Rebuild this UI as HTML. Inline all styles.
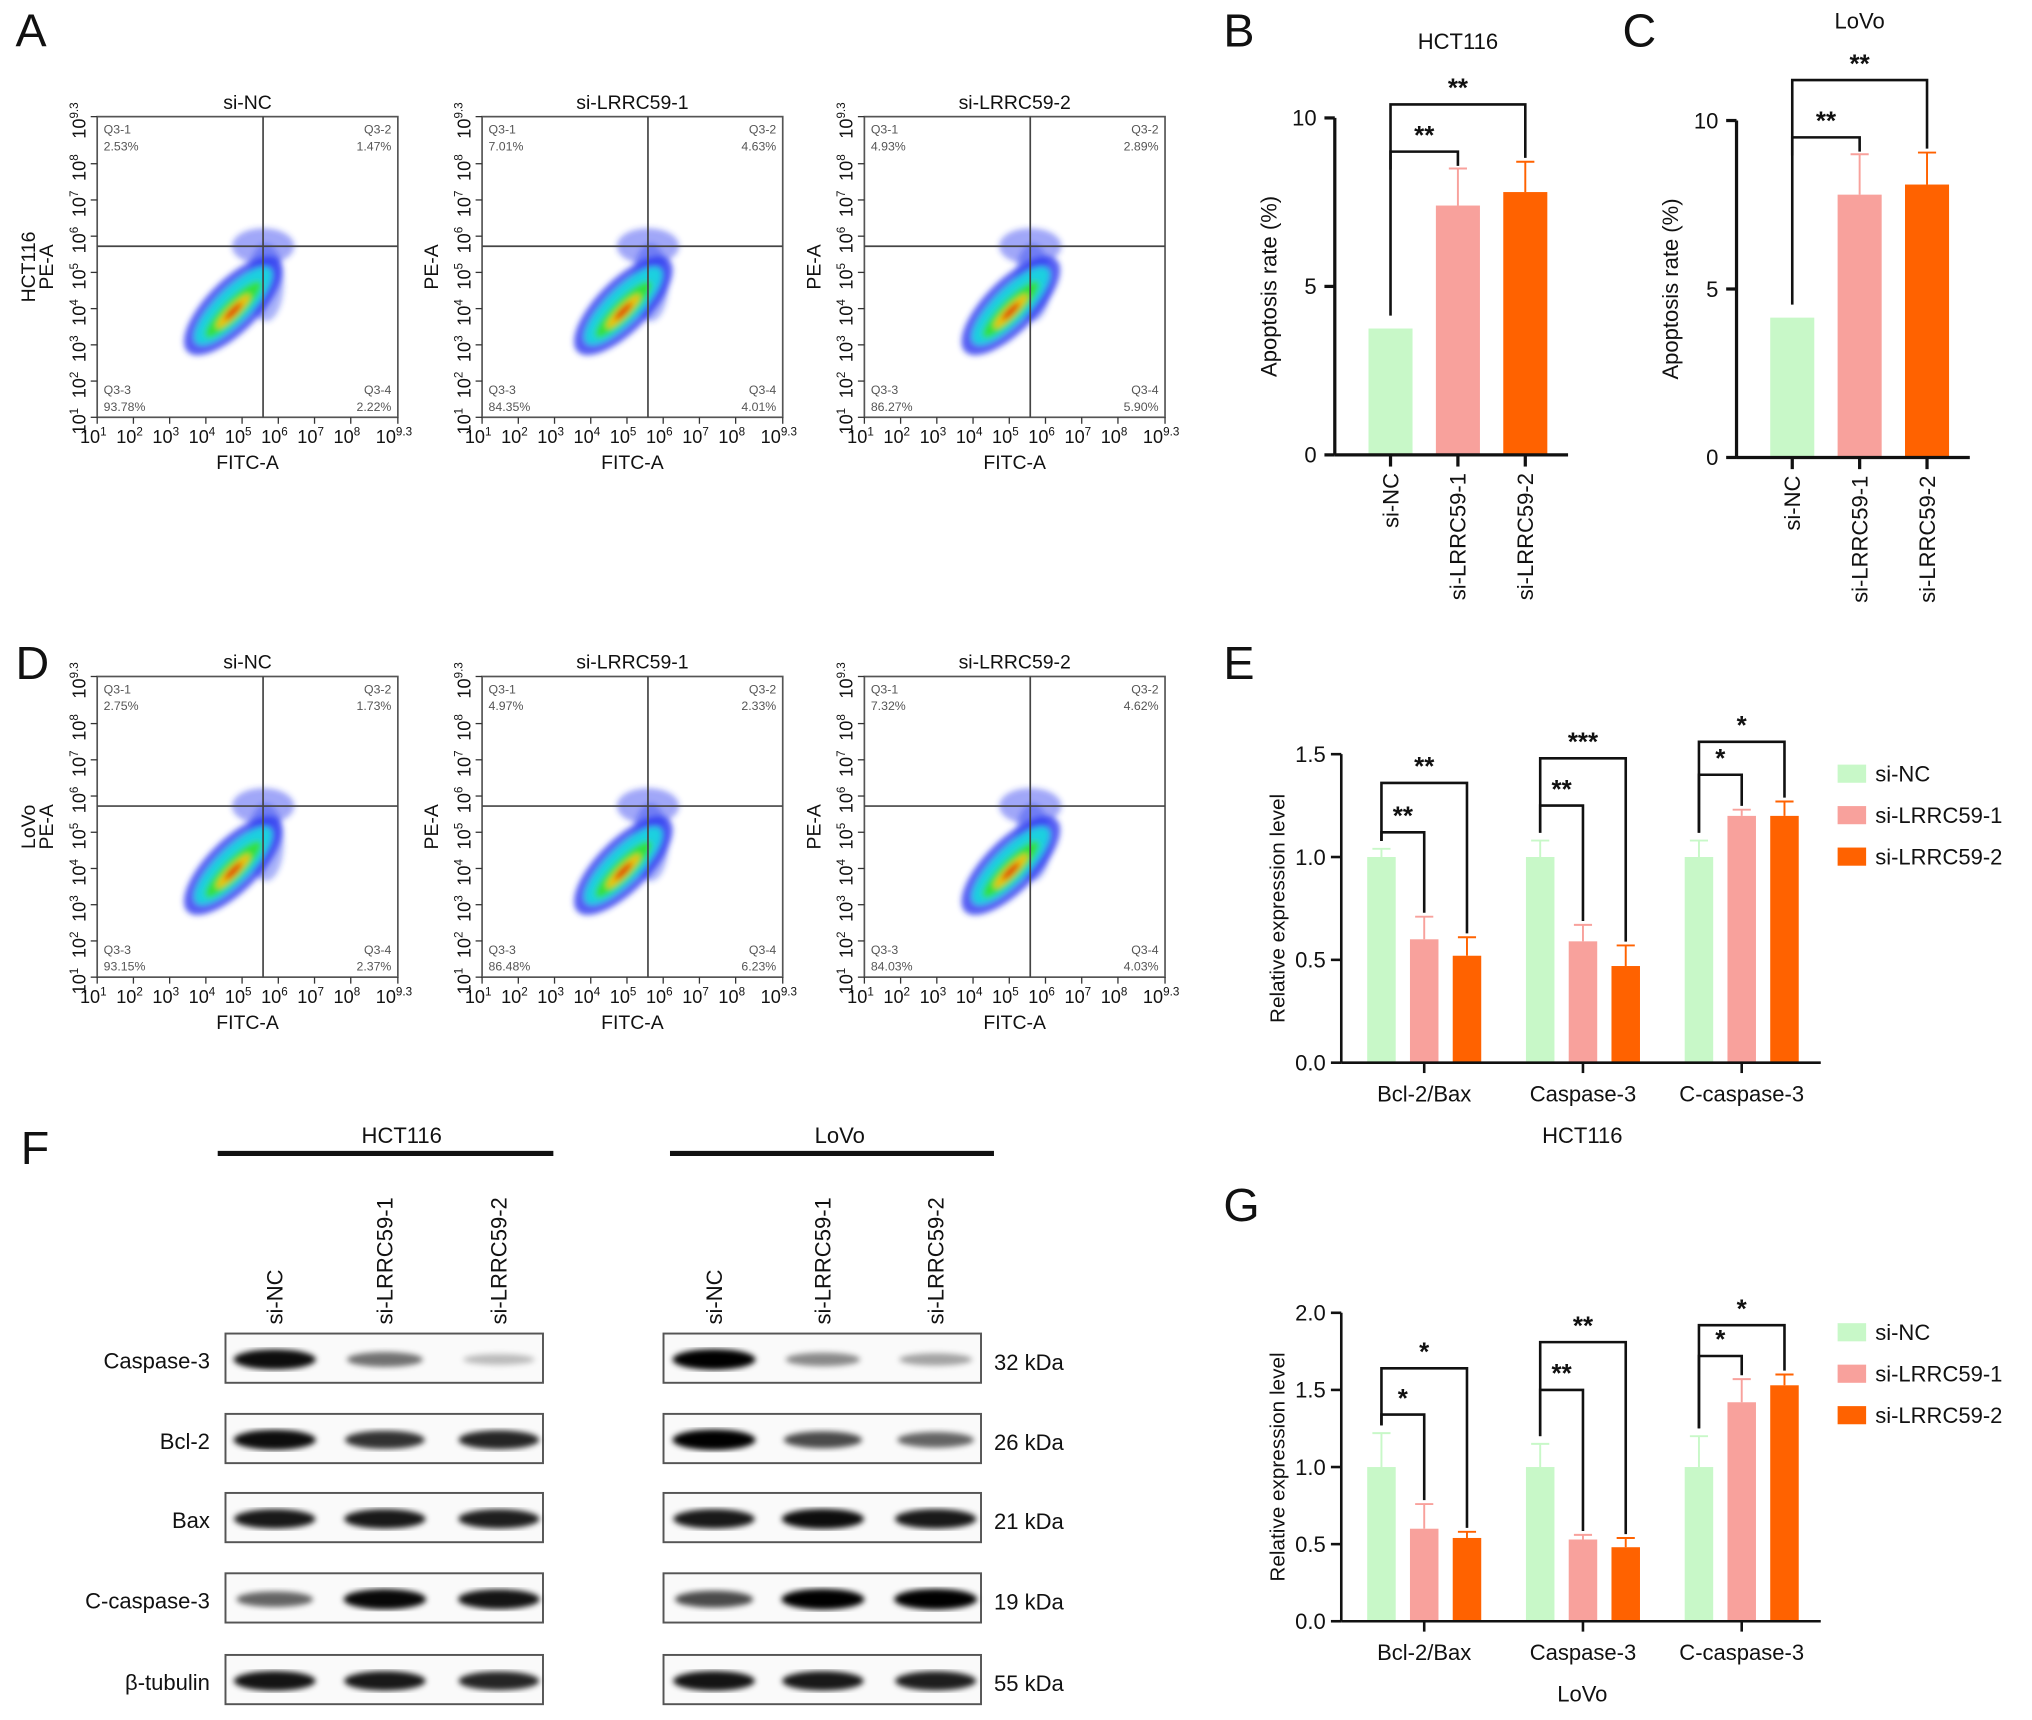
<!DOCTYPE html>
<html><head><meta charset="utf-8"><style>
html,body{margin:0;padding:0;background:#fff;}
svg{display:block;font-family:"Liberation Sans",Arial,sans-serif;}
</style></head><body>
<svg id="fig" width="2032" height="1720" viewBox="0 0 1568 1327.2" preserveAspectRatio="none" xmlns="http://www.w3.org/2000/svg">
<defs>
<filter id="blur2"><feGaussianBlur stdDeviation="2.2"/></filter>
<filter id="blur4"><feGaussianBlur stdDeviation="4"/></filter>
</defs>
<g id="root"></g>
</svg>
<script>
// ---------- data ----------
const barCats = ['si-NC','si-LRRC59-1','si-LRRC59-2'];
const barColors = ['#c8f8c8','#f8a19c','#ff6200'];
const hctApop = [3.75, 7.4, 7.8];
const hctApopErr = [3.8, 8.5, 8.7];
const lovoApop = [4.15, 7.8, 8.1];
const lovoApopErr = [4.2, 9.0, 9.05];
const apopTicks = [0, 5, 10];

const groups = ['Bcl-2/Bax','Caspase-3','C-caspase-3'];
const hctNC = [1.0, 1.0, 1.0];
const hctNCErr = [1.04, 1.08, 1.08];
const hctS1 = [0.6, 0.59, 1.2];
const hctS1Err = [0.71, 0.67, 1.23];
const hctS2 = [0.52, 0.47, 1.2];
const hctS2Err = [0.61, 0.57, 1.27];
const hctTicks = [0, 0.5, 1.0, 1.5];
const hctSigLow = ['**','**','*'];
const hctSigHigh = ['**','***','*'];
const hctBrLow = [1.12, 1.25, 1.40];
const hctBrHigh = [1.36, 1.48, 1.56];

const lovoNC = [1.0, 1.0, 1.0];
const lovoNCErr = [1.22, 1.15, 1.2];
const lovoS1 = [0.6, 0.53, 1.42];
const lovoS1Err = [0.76, 0.56, 1.57];
const lovoS2 = [0.54, 0.48, 1.53];
const lovoS2Err = [0.58, 0.54, 1.6];
const lovoTicks = [0, 0.5, 1.0, 1.5, 2.0];
const lovoSigLow = ['*','**','*'];
const lovoSigHigh = ['*','**','*'];
const lovoBrLow = [1.34, 1.50, 1.72];
const lovoBrHigh = [1.64, 1.81, 1.92];

const flowTitles = ['si-NC','si-LRRC59-1','si-LRRC59-2'];
const hctQuad = [['2.53%','1.47%','93.78%','2.22%'],['7.01%','4.63%','84.35%','4.01%'],['4.93%','2.89%','86.27%','5.90%']];
const lovoQuad = [['2.75%','1.73%','93.15%','2.37%'],['4.97%','2.33%','86.48%','6.23%'],['7.32%','4.62%','84.03%','4.03%']];

const blotRows = ['Caspase-3','Bcl-2','Bax','C-caspase-3','β-tubulin'];
const blotKda = ['32 kDa','26 kDa','21 kDa','19 kDa','55 kDa'];
const hctBands = [[0.95,0.55,0.25],[0.95,0.8,0.85],[0.9,0.9,0.88],[0.6,0.97,0.92],[0.92,0.9,0.85]];
const lovoBands = [[1.0,0.45,0.35],[1.0,0.7,0.6],[0.9,0.95,0.9],[0.7,1.0,1.0],[0.92,0.9,0.88]];

// ---------- helpers ----------
const NS='http://www.w3.org/2000/svg';
const root=document.getElementById('root');
function el(tag,attrs,parent){const e=document.createElementNS(NS,tag);for(const k in attrs)e.setAttribute(k,attrs[k]);(parent||root).appendChild(e);return e;}
function txt(x,y,s,size,parent,extra){const t=el('text',Object.assign({x:x,y:y,'font-size':size,fill:'#111'},extra||{}),parent);t.textContent=s;return t;}

[['A',12,36],['B',944,36],['C',1252,36],['D',12,524],['E',944,524],['F',16,898],['G',944,942]].forEach(p=>{
  const t=txt(p[1],p[2],p[0],36,root);
  
  
});

// ---------- flow plots ----------
function flowPlot(bx,by,title,quad,rowLabel,seed){
  const g=el('g',{});
  
  
  const w=232,h=232;
  const dec=w/8.3;
  txt(bx+w/2,by-6,title,15,g,{'text-anchor':'middle'});
  const cx=bx+105+seed*4, cy=by+146;
  const sc=el('g',{filter:'url(#blur2)'},g);
  el('ellipse',{cx:bx+128,cy:by+100,rx:24,ry:14,fill:'#2b3cf0',opacity:0.45},sc);
  el('ellipse',{cx:bx+130,cy:by+128,rx:14,ry:30,fill:'#2b3cf0',opacity:0.4},sc);
  el('ellipse',{cx:cx,cy:cy,rx:50,ry:20,fill:'#2a3af0',transform:`rotate(-45 ${cx} ${cy})`,opacity:0.8},sc);
  el('ellipse',{cx:cx,cy:cy,rx:40,ry:13,fill:'#1fd0e0',transform:`rotate(-45 ${cx} ${cy})`},sc);
  el('ellipse',{cx:cx-2,cy:cy+2,rx:30,ry:8,fill:'#30e040',transform:`rotate(-45 ${cx} ${cy})`},sc);
  el('ellipse',{cx:cx-3,cy:cy+3,rx:18,ry:4,fill:'#f0c000',transform:`rotate(-45 ${cx} ${cy})`},sc);
  el('ellipse',{cx:cx-3,cy:cy+3,rx:9,ry:2.5,fill:'#e03000',transform:`rotate(-45 ${cx} ${cy})`},sc);
  el('rect',{x:bx,y:by,width:w,height:h,fill:'none',stroke:'#555','stroke-width':1.3},g);
  const qx=bx+128, qy=by+100;
  el('line',{x1:qx,y1:by,x2:qx,y2:by+h,stroke:'#444','stroke-width':1.3},g);
  el('line',{x1:bx,y1:qy,x2:bx+w,y2:qy,stroke:'#444','stroke-width':1.3},g);
  const qa={'font-size':9.5,fill:'#555'};
  txt(bx+5,by+13,'Q3-1',9.5,g,qa);txt(bx+5,by+26,quad[0],9.5,g,qa);
  txt(bx+w-5,by+13,'Q3-2',9.5,g,Object.assign({'text-anchor':'end'},qa));txt(bx+w-5,by+26,quad[1],9.5,g,Object.assign({'text-anchor':'end'},qa));
  txt(bx+5,by+h-18,'Q3-3',9.5,g,qa);txt(bx+5,by+h-5,quad[2],9.5,g,qa);
  txt(bx+w-5,by+h-18,'Q3-4',9.5,g,Object.assign({'text-anchor':'end'},qa));txt(bx+w-5,by+h-5,quad[3],9.5,g,Object.assign({'text-anchor':'end'},qa));
  const exps=['1','2','3','4','5','6','7','8','9.3'];
  exps.forEach((e,i)=>{
    const d=(i===8)?8.3:i;
    const x=bx+d*dec, y=by+h-d*dec;
    el('line',{x1:x,y1:by+h,x2:x,y2:by+h+5,stroke:'#333'},g);
    el('line',{x1:bx-5,y1:y,x2:bx,y2:y,stroke:'#333'},g);
    const t=txt(x-3,by+h+20,'',14,g,{'text-anchor':'middle'});
    const a=el('tspan',{},t);a.textContent='10';
    const b=el('tspan',{dy:-6,'font-size':9},t);b.textContent=e;
    const ty=txt(0,0,'',14,g,{transform:`translate(${bx-9},${y+3}) rotate(-90)`,'text-anchor':'middle'});
    const a2=el('tspan',{},ty);a2.textContent='10';
    const b2=el('tspan',{dy:-6,'font-size':9},ty);b2.textContent=e;
  });
  txt(bx+w/2,by+h+40,'FITC-A',15,g,{'text-anchor':'middle'});
  if(rowLabel){
    txt(0,0,rowLabel,15,g,{transform:`translate(${bx-48},${by+h/2}) rotate(-90)`,'text-anchor':'middle'});
  }
  txt(0,0,'PE-A',15,g,{transform:`translate(${bx-34},${by+h/2}) rotate(-90)`,'text-anchor':'middle'});
}
const flowX=[75,372,667];
flowTitles.forEach((t,i)=>flowPlot(flowX[i],90,t,hctQuad[i],i===0?'HCT116':null,i));
flowTitles.forEach((t,i)=>flowPlot(flowX[i],522,t,lovoQuad[i],i===0?'LoVo':null,i));

// ---------- simple bar panels ----------
function errBar(g,x,yTop,yVal,color){
  el('line',{x1:x,y1:yVal,x2:x,y2:yTop,stroke:color,'stroke-width':1.5},g);
  el('line',{x1:x-7,y1:yTop,x2:x+7,y2:yTop,stroke:color,'stroke-width':1.5},g);
}
function bracket(g,x1,x2,yb,y1,y2,label){
  el('polyline',{points:`${x1},${y1} ${x1},${yb} ${x2},${yb} ${x2},${y2}`,fill:'none',stroke:'#111','stroke-width':2},g);
  txt((x1+x2)/2,yb-6,label,20,g,{'text-anchor':'middle','font-weight':'bold'});
}
function apopPanel(name,ax,y0,vals,errs,title,titleY,brLow,brHigh){
  const g=el('g',{});
  
  
  const ppu=26;
  const Y=v=>y0-v*ppu;
  const X=i=>ax+43+i*52;
  txt(ax+95,titleY,title,17,g,{'text-anchor':'middle'});
  vals.forEach((v,i)=>{
    const b=el('rect',{x:X(i)-17,y:Y(v),width:34,height:v*ppu,fill:barColors[i]},g);
    
    
    if(i>0)errBar(g,X(i),Y(errs[i]),Y(v),barColors[i]);
  });
  el('line',{x1:ax,y1:y0,x2:ax,y2:Y(10),stroke:'#111','stroke-width':2.5},g);
  el('line',{x1:ax,y1:y0,x2:ax+180,y2:y0,stroke:'#111','stroke-width':2.5},g);
  apopTicks.forEach(t=>{
    el('line',{x1:ax-8,y1:Y(t),x2:ax,y2:Y(t),stroke:'#111','stroke-width':2.5},g);
    txt(ax-14,Y(t)+6,String(t),17,g,{'text-anchor':'end'});
  });
  barCats.forEach((c,i)=>{
    el('line',{x1:X(i),y1:y0,x2:X(i),y2:y0+9,stroke:'#111','stroke-width':2.5},g);
    txt(0,0,c,17,g,{transform:`translate(${X(i)+6},${y0+14}) rotate(-90)`,'text-anchor':'end'});
  });
  txt(0,0,'Apoptosis rate (%)',17,g,{transform:`translate(${ax-45},${Y(5)}) rotate(-90)`,'text-anchor':'middle'});
  bracket(g,X(0),X(1),Y(brLow),Y(vals[0])-10,Y(errs[1])-2,'**');
  bracket(g,X(0),X(2),Y(brHigh),Y(brLow)+14,Y(errs[2])-3,'**');
}
apopPanel('hct116-apoptosis-chart',1030,351,hctApop,hctApopErr,'HCT116',38,9.0,10.4);
apopPanel('lovo-apoptosis-chart',1340,353,lovoApop,lovoApopErr,'LoVo',22,9.5,11.2);

// ---------- grouped bar panels ----------
function groupPanel(name,y0,ppu,ticks,ymax,series,errs,sigLow,sigHigh,brLow,brHigh,sub,legendY){
  const g=el('g',{});
  
  
  const ax=1035;
  const Y=v=>y0-v*ppu;
  const GX=j=>1099+j*122.5;
  const off=[-33,0,33];
  groups.forEach((gr,j)=>{
    series.forEach((s,i)=>{
      const x=GX(j)+off[i];
      const b=el('rect',{x:x-11,y:Y(s[j]),width:22,height:s[j]*ppu,fill:barColors[i]},g);
      
      
      errBar(g,x,Y(errs[i][j]),Y(s[j]),barColors[i]);
    });
    const xl=GX(j)-33, x1=GX(j), x2=GX(j)+33;
    const yLow=Y(brLow[j]), yHigh=Y(brHigh[j]);
    const legStart=Y(errs[0][j])-6;
    bracket(g,xl,x1,yLow,legStart,Y(errs[1][j])-3,sigLow[j]);
    bracket(g,xl,x2,yHigh,legStart,Y(errs[2][j])-3,sigHigh[j]);
    el('line',{x1:GX(j),y1:y0,x2:GX(j),y2:y0+8,stroke:'#111','stroke-width':2},g);
    txt(GX(j),y0+30,gr,17,g,{'text-anchor':'middle'});
  });
  el('line',{x1:ax,y1:y0,x2:ax,y2:Y(ymax),stroke:'#111','stroke-width':2},g);
  el('line',{x1:ax,y1:y0,x2:1405,y2:y0,stroke:'#111','stroke-width':2},g);
  ticks.forEach(t=>{
    el('line',{x1:ax-8,y1:Y(t),x2:ax,y2:Y(t),stroke:'#111','stroke-width':2},g);
    txt(ax-12,Y(t)+6,t.toFixed(1),17,g,{'text-anchor':'end'});
  });
  txt(0,0,'Relative expression level',16,g,{transform:`translate(${ax-44},${(y0+Y(ymax))/2}) rotate(-90)`,'text-anchor':'middle'});
  txt(1221,y0+62,sub,17,g,{'text-anchor':'middle'});
  barCats.forEach((c,i)=>{
    const lg=el('g',{},g);
    
    
    el('rect',{x:1418,y:legendY+i*32-7,width:22,height:14,fill:barColors[i]},lg);
    txt(1447,legendY+i*32+6,c,17,lg);
  });
}
groupPanel('hct116-expression-chart',820,158.7,hctTicks,1.5,[hctNC,hctS1,hctS2],[hctNCErr,hctS1Err,hctS2Err],hctSigLow,hctSigHigh,hctBrLow,hctBrHigh,'HCT116',597);
groupPanel('lovo-expression-chart',1251,119,lovoTicks,2.0,[lovoNC,lovoS1,lovoS2],[lovoNCErr,lovoS1Err,lovoS2Err],lovoSigLow,lovoSigHigh,lovoBrLow,lovoBrHigh,'LoVo',1028);

// ---------- western blot ----------
const rowY=[1029,1091,1152,1214,1277];
function blotSet(name,bx,bands,lanes,header,hx,lineX1,lineX2,showLabels,showKda){
  const g=el('g',{});
  
  
  txt(hx,882,header,17,g,{'text-anchor':'middle'});
  el('line',{x1:lineX1,y1:890,x2:lineX2,y2:890,stroke:'#111','stroke-width':4},g);
  barCats.forEach((c,i)=>txt(0,0,c,17,g,{transform:`translate(${lanes[i]+6},${1022}) rotate(-90)`}));
  blotRows.forEach((r,k)=>{
    const y=rowY[k];
    el('rect',{x:bx,y:y,width:245,height:38,fill:'#fafafa',stroke:'#555','stroke-width':1.5},g);
    const bg=el('g',{filter:'url(#blur2)'},g);
    bands[k].forEach((d,i)=>{
      el('ellipse',{cx:lanes[i],cy:y+20,rx:26+d*6,ry:3+d*5,fill:'#000',opacity:d},bg);
    });
    if(showLabels)txt(162,y+27,r,17,g,{'text-anchor':'end'});
    if(showKda)txt(767,y+28,blotKda[k],17,g);
  });
}
blotSet('western-blot-hct116',174,hctBands,[212,297,385],'HCT116',310,168,427,true,false);
blotSet('western-blot-lovo',512,lovoBands,[551,635,722],'LoVo',648,517,767,false,true);
</script>
</body></html>
